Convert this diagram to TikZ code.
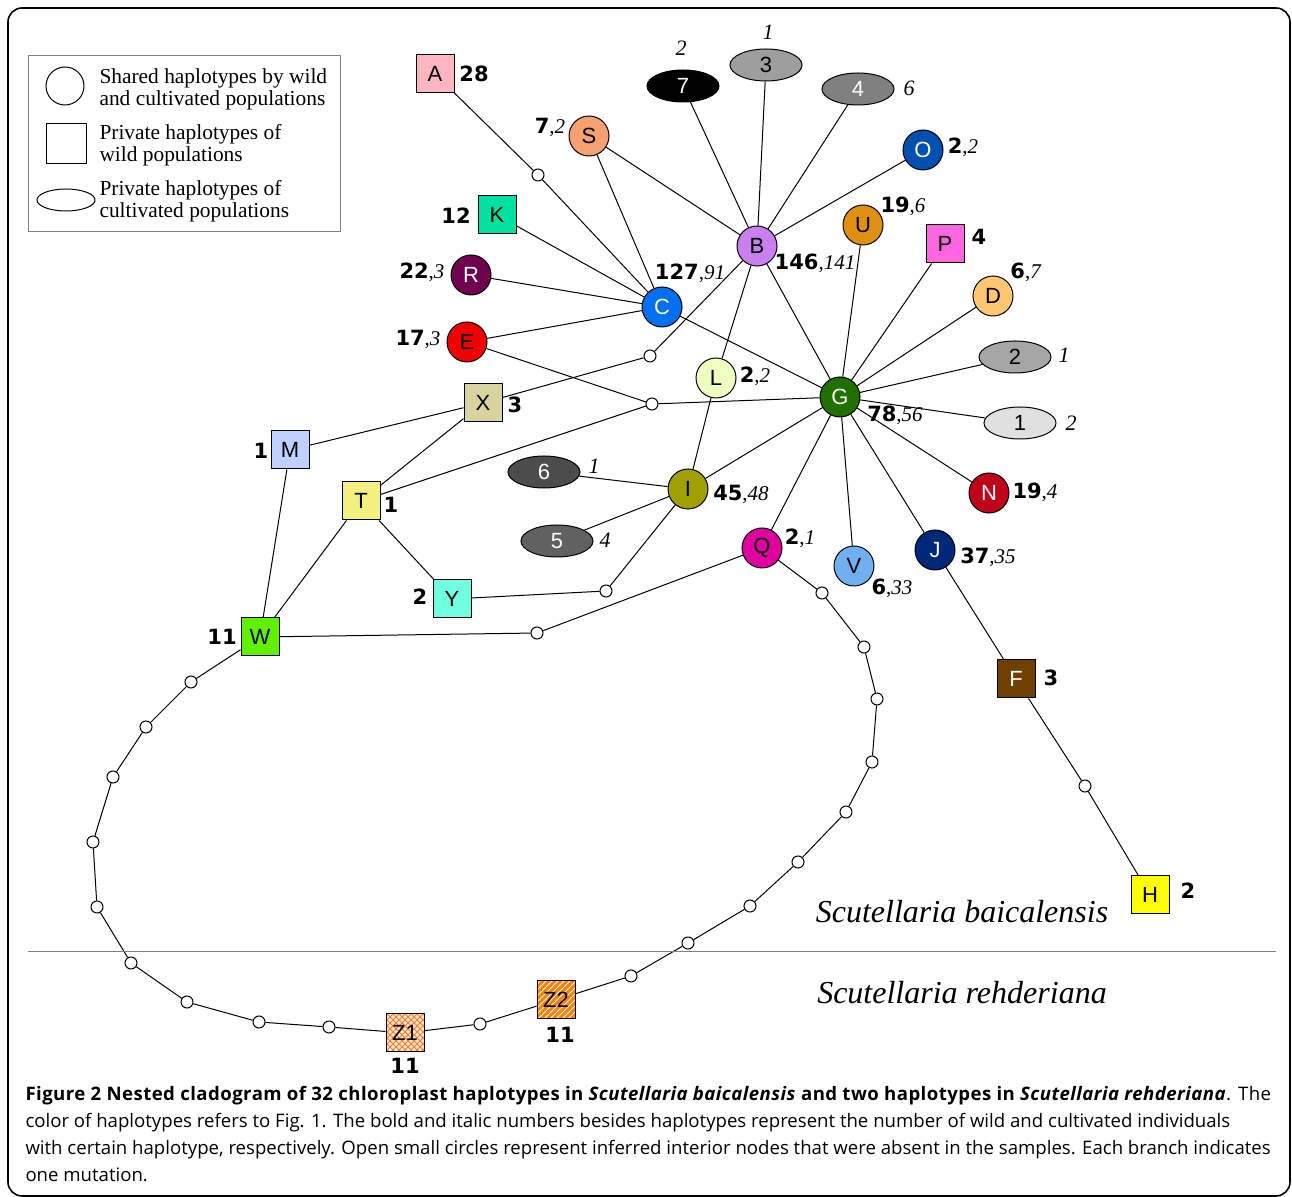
\documentclass[tikz,border=0pt]{standalone}
\usepackage{fontspec}
\setmainfont{Liberation Serif}
\setsansfont{Liberation Sans}
\newfontfamily\numfont{DejaVu Sans}
\newfontfamily\capfont{Open Sans}
\usetikzlibrary{shapes.geometric,patterns}

% haplotype colours
\definecolor{hA}{HTML}{FFB6C1}
\definecolor{hS}{HTML}{F4A070}
\definecolor{hB}{HTML}{C880F0}
\definecolor{hO}{HTML}{0050B0}
\definecolor{hU}{HTML}{E09010}
\definecolor{hP}{HTML}{FF66E0}
\definecolor{hK}{HTML}{00E0A0}
\definecolor{hR}{HTML}{700050}
\definecolor{hC}{HTML}{0070F0}
\definecolor{hE}{HTML}{F00000}
\definecolor{hD}{HTML}{FFC870}
\definecolor{hL}{HTML}{EEFFC0}
\definecolor{hX}{HTML}{D8D4A0}
\definecolor{hG}{HTML}{207000}
\definecolor{hM}{HTML}{C0D0FF}
\definecolor{hT}{HTML}{F4F080}
\definecolor{hI}{HTML}{A0A000}
\definecolor{hN}{HTML}{C00018}
\definecolor{hQ}{HTML}{E000A0}
\definecolor{hV}{HTML}{70B0F0}
\definecolor{hJ}{HTML}{002878}
\definecolor{hY}{HTML}{70FFE0}
\definecolor{hW}{HTML}{60F000}
\definecolor{hF}{HTML}{704000}
\definecolor{hH}{HTML}{FFFF00}

\newcommand{\wc}[2]{{\numfont\bfseries #1},\textit{#2}}
\newcommand{\wn}[1]{{\numfont\bfseries #1}}

\begin{document}
\begin{tikzpicture}
  [x=0.5pt,y=-0.5pt,line width=0.5pt,
   every node/.style={font=\sffamily\fontsize{11}{13}\selectfont,inner sep=0pt},
   shared/.style={circle,draw,minimum size=20pt},
   wild/.style={rectangle,draw,minimum size=19pt},
   cult/.style={ellipse,draw,minimum width=36pt,minimum height=16pt},
   infer/.style={circle,draw,fill=white,minimum size=6pt},
   cnt/.style={font=\fontsize{10.5}{12}\selectfont},
   cultcnt/.style={font=\itshape\rmfamily\fontsize{11}{12}\selectfont},
   legtext/.style={anchor=west,align=left,font=\rmfamily\fontsize{10.7}{11}\selectfont},
   species/.style={font=\rmfamily\itshape\fontsize{16}{18}\selectfont}]
  \useasboundingbox (0,0) rectangle (1292,1197);
  \draw[rounded corners=7pt,line width=0.8pt] (8,8) rectangle (1290,1196);

  % legend
  \draw[gray] (28,56) rectangle (340,232);
  \node[circle,draw,minimum size=19pt] (lgc) at (65,86) {};
  \node[rectangle,draw,minimum size=20pt] (lgs) at (66,144) {};
  \node[ellipse,draw,minimum width=29pt,minimum height=11pt] (lge) at (66,200) {};
  \node[legtext] (lgt1) at (99,89) {Shared haplotypes by wild\\and cultivated populations};
  \node[legtext] (lgt2) at (99,145) {Private haplotypes of\\wild populations};
  \node[legtext] (lgt3) at (99,201) {Private haplotypes of\\cultivated populations};

  % haplotypes
  \node[wild,fill=hA] (A) at (435,74) {A};
  \node[shared,fill=hS] (S) at (589,136) {S};
  \node[cult,fill=black,text=white] (o7) at (683,86) {7};
  \node[cult,fill=black!38] (o3) at (766,65) {3};
  \node[cult,fill=black!50,text=white] (o4) at (858,89) {4};
  \node[shared,fill=hO,text=white] (O) at (923,150) {O};
  \node[shared,fill=hB] (B) at (757,246) {B};
  \node[shared,fill=hU] (U) at (863,225) {U};
  \node[wild,fill=hP] (P) at (945,244) {P};
  \node[wild,fill=hK] (K) at (497,215) {K};
  \node[shared,fill=hR,text=white] (R) at (471,275) {R};
  \node[shared,fill=hC,text=white] (C) at (662,307) {C};
  \node[shared,fill=hE] (E) at (467,342) {E};
  \node[shared,fill=hD] (D) at (993,296) {D};
  \node[cult,fill=black!35] (o2) at (1015,357) {2};
  \node[shared,fill=hL] (L) at (716,378) {L};
  \node[wild,fill=hX] (X) at (483,403) {X};
  \node[shared,fill=hG,text=white] (G) at (840,397) {G};
  \node[cult,fill=black!12] (o1) at (1020,423) {1};
  \node[wild,fill=hM] (M) at (290,450) {M};
  \node[wild,fill=hT] (T) at (361,501) {T};
  \node[cult,fill=black!70,text=white] (o6) at (544,472) {6};
  \node[shared,fill=hI] (I) at (688,489) {I};
  \node[shared,fill=hN,text=white] (N) at (989,493) {N};
  \node[cult,fill=black!62,text=white] (o5) at (557,541) {5};
  \node[shared,fill=hQ] (Q) at (762,548) {Q};
  \node[shared,fill=hV] (V) at (854,566) {V};
  \node[shared,fill=hJ,text=white] (J) at (935,550) {J};
  \node[wild,fill=hY] (Y) at (452,599) {Y};
  \node[wild,fill=hW] (W) at (260,637) {W};
  \node[wild,fill=hF,text=white] (F) at (1016,679) {F};
  \node[wild,fill=hH] (H) at (1150,895) {H};
  \node[wild,preaction={fill=pink!45},pattern=crosshatch,pattern color=orange!80!brown] (Z1) at (405,1033) {Z1};
  \node[wild,preaction={fill=orange},pattern=north east lines,pattern color=white] (Z2) at (556,1000) {Z2};

  % inferred interior nodes
  \node[infer] (m1) at (538,175) {};
  \node[infer] (m2) at (650,356) {};
  \node[infer] (m3) at (652,404) {};
  \node[infer] (m4) at (606,591) {};
  \node[infer] (m5) at (537,633) {};
  \node[infer] (m6) at (480,1024) {};
  \node[infer] (m7) at (1085,786) {};
  \foreach \i/\x/\y in {1/822/593,2/864/647,3/877/699,4/872/762,5/846/812,
                        6/798/862,7/750/906,8/688/943,9/631/976}
    \node[infer] (q\i) at (\x,\y) {};
  \foreach \i/\x/\y in {1/191/682,2/146/727,3/113/777,4/93/842,5/97/907,
                        6/131/963,7/187/1002,8/259/1022,9/329/1027}
    \node[infer] (w\i) at (\x,\y) {};

  % branches
  \foreach \from/\to in {A/m1,m1/C,S/C,S/B,K/C,R/C,E/C,o7/B,o3/B,o4/B,O/B,
      B/m2,m2/X,B/L,B/G,C/G,U/G,P/G,D/G,o2/G,o1/G,N/G,J/G,V/G,Q/G,I/G,
      E/m3,T/m3,m3/G,L/I,o6/I,o5/I,X/M,X/T,M/W,T/W,T/Y,Y/m4,m4/I,
      W/m5,m5/Q,Z2/m6,m6/Z1,J/F,F/m7,m7/H,
      Q/q1,q1/q2,q2/q3,q3/q4,q4/q5,q5/q6,q6/q7,q7/q8,q8/q9,q9/Z2,
      W/w1,w1/w2,w2/w3,w3/w4,w4/w5,w5/w6,w6/w7,w7/w8,w8/w9,w9/Z1}
    \draw (\from) -- (\to);

  % numbers of wild and cultivated individuals
  \node[cnt] (nA) at (474,74) {\wn{28}};
  \node[cnt] (nS) at (550,127) {\wc{7}{2}};
  \node[cultcnt] (n7) at (681,48) {2};
  \node[cultcnt] (n3) at (768,32) {1};
  \node[cultcnt] (n4) at (909,88) {6};
  \node[cnt] (nO) at (963,147) {\wc{2}{2}};
  \node[cnt] (nB) at (815,263) {\wc{146}{141}};
  \node[cnt] (nU) at (903,206) {\wc{19}{6}};
  \node[cnt] (nP) at (979,237) {\wn{4}};
  \node[cnt] (nK) at (456,216) {\wn{12}};
  \node[cnt] (nR) at (422,272) {\wc{22}{3}};
  \node[cnt] (nC) at (690,273) {\wc{127}{91}};
  \node[cnt] (nE) at (418,339) {\wc{17}{3}};
  \node[cnt] (nD) at (1026,272) {\wc{6}{7}};
  \node[cultcnt] (n2) at (1064,355) {1};
  \node[cnt] (nL) at (755,376) {\wc{2}{2}};
  \node[cnt] (nX) at (515,405) {\wn{3}};
  \node[cnt] (nG) at (895,415) {\wc{78}{56}};
  \node[cultcnt] (n1) at (1071,423) {2};
  \node[cnt] (nM) at (261,451) {\wn{1}};
  \node[cnt] (nT) at (391,505) {\wn{1}};
  \node[cultcnt] (n6) at (594,466) {1};
  \node[cnt] (nI) at (741,494) {\wc{45}{48}};
  \node[cnt] (nN) at (1035,492) {\wc{19}{4}};
  \node[cultcnt] (n5) at (605,540) {4};
  \node[cnt] (nQ) at (800,538) {\wc{2}{1}};
  \node[cnt] (nV) at (892,588) {\wc{6}{33}};
  \node[cnt] (nJ) at (988,557) {\wc{37}{35}};
  \node[cnt] (nY) at (420,597) {\wn{2}};
  \node[cnt] (nW) at (222,637) {\wn{11}};
  \node[cnt] (nF) at (1051,678) {\wn{3}};
  \node[cnt] (nH) at (1188,891) {\wn{2}};
  \node[cnt] (nZ1) at (405,1066) {\wn{11}};
  \node[cnt] (nZ2) at (560,1035) {\wn{11}};

  % species
  \draw[gray] (28,952) -- (1276,952);
  \node[species] (sb) at (962,912) {Scutellaria baicalensis};
  \node[species] (sr) at (962,993) {Scutellaria rehderiana};

  % caption
  \node[anchor=north west,align=left,font=\capfont\fontsize{9.3}{13.5}\selectfont] (cap) at (25,1086)
    {{\addfontfeature{LetterSpace=2.4}\textbf{Figure 2 Nested cladogram of 32 chloroplast haplotypes in \textit{Scutellaria baicalensis} and two haplotypes in \textit{Scutellaria rehderiana}}. The}\\
     color of haplotypes refers to Fig. 1. The bold and italic numbers besides haplotypes represent the number of wild and cultivated individuals\\
     with certain haplotype, respectively. Open small circles represent inferred interior nodes that were absent in the samples. Each branch indicates\\
     one mutation.};
\end{tikzpicture}
\end{document}
